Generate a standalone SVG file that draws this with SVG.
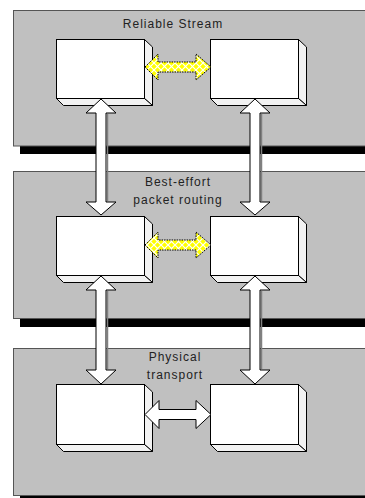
<svg xmlns="http://www.w3.org/2000/svg" width="365" height="498" viewBox="0 0 365 498">
<defs>
<pattern id="lattice" patternUnits="userSpaceOnUse" width="7" height="7">
<rect width="7" height="7" fill="#ffff00"/>
<path d="M0,0 L7,7 M7,0 L0,7" stroke="#ffffff" stroke-width="1.2"/>
</pattern>
<style>
.panel{fill:#c0c0c0;stroke:#555;stroke-width:1}
.shadow{fill:#000}
.face{fill:#fff;stroke:#000;stroke-width:1}
.side{fill:#f2f2f2;stroke:#000;stroke-width:1}
.lbl{font-family:"Liberation Sans",Arial,sans-serif;font-size:12px;letter-spacing:1px;fill:#222;text-anchor:middle}
.varrow{fill:#fff;stroke:#000;stroke-width:1}
.vshade{stroke:#808080;stroke-width:1.5}
.yarrow{fill:url(#lattice);stroke:#000;stroke-width:1;stroke-dasharray:1.5,1}
.warrow{fill:#fff;stroke:#000;stroke-width:1}
</style>
</defs>

<g id="layers">
<g id="layer-reliable">
<rect class="shadow" x="20" y="17" width="360" height="137"/>
<rect class="panel" x="13.5" y="10.5" width="360" height="135.5"/>
<text class="lbl" x="173" y="28">Reliable Stream</text>
</g>
<g id="layer-routing">
<rect class="shadow" x="20" y="178" width="360" height="149"/>
<rect class="panel" x="13.5" y="171.5" width="360" height="147"/>
<text class="lbl" x="178" y="186">Best-effort</text>
<text class="lbl" x="178" y="204">packet routing</text>
</g>
<g id="layer-physical">
<rect class="shadow" x="20" y="355" width="360" height="150"/>
<rect class="panel" x="13.5" y="348.5" width="360" height="147"/>
<text class="lbl" x="175" y="361">Physical</text>
<text class="lbl" x="175" y="379">transport</text>
</g>
</g>

<g id="node-a1">
<polygon class="side" points="144.5,39.5 152.5,47 152.5,105.5 144.5,98.5"/>
<polygon class="side" points="56.5,98.5 144.5,98.5 152.5,105.5 63.5,105.5"/>
<rect class="face" x="56.5" y="39.5" width="88" height="59"/>
</g>
<g id="node-b1">
<polygon class="side" points="298.5,39.5 306.5,47 306.5,105.5 298.5,98.5"/>
<polygon class="side" points="210.5,98.5 298.5,98.5 306.5,105.5 217.5,105.5"/>
<rect class="face" x="210.5" y="39.5" width="88" height="59"/>
</g>
<g id="node-a2">
<polygon class="side" points="144.5,216.5 152.5,224 152.5,282.5 144.5,275.5"/>
<polygon class="side" points="56.5,275.5 144.5,275.5 152.5,282.5 63.5,282.5"/>
<rect class="face" x="56.5" y="216.5" width="88" height="59"/>
</g>
<g id="node-b2">
<polygon class="side" points="298.5,216.5 306.5,224 306.5,282.5 298.5,275.5"/>
<polygon class="side" points="210.5,275.5 298.5,275.5 306.5,282.5 217.5,282.5"/>
<rect class="face" x="210.5" y="216.5" width="88" height="59"/>
</g>
<g id="node-a3">
<polygon class="side" points="144.5,384.5 152.5,392 152.5,451.5 144.5,444.5"/>
<polygon class="side" points="56.5,444.5 144.5,444.5 152.5,451.5 63.5,451.5"/>
<rect class="face" x="56.5" y="384.5" width="88" height="60"/>
</g>
<g id="node-b3">
<polygon class="side" points="298.5,384.5 306.5,392 306.5,451.5 298.5,444.5"/>
<polygon class="side" points="210.5,444.5 298.5,444.5 306.5,451.5 217.5,451.5"/>
<rect class="face" x="210.5" y="384.5" width="88" height="60"/>
</g>

<g id="connectors">
<!-- horizontal peer arrows -->
<polygon class="yarrow" points="145,67 158,54 158,62 196,62 196,54 211,67 196,80 196,72 158,72 158,80"/>
<polygon class="yarrow" points="145,245 158,232 158,240 196,240 196,232 211,245 196,258 196,250 158,250 158,258"/>
<polygon class="warrow" points="145,414.5 159,400.5 159,409.5 196,409.5 196,400.5 211,414.5 196,428.5 196,419.5 159,419.5 159,428.5"/>
<!-- vertical arrows upper -->
<polygon class="varrow" points="101,99 116,113 106,113 106,202 116,202 101,215 86,202 96,202 96,113 86,113"/>
<line class="vshade" x1="107.5" y1="114" x2="107.5" y2="201"/>
<polygon class="varrow" points="255,99 270,113 260,113 260,202 270,202 255,215 240,202 250,202 250,113 240,113"/>
<line class="vshade" x1="261.5" y1="114" x2="261.5" y2="201"/>
<!-- vertical arrows lower -->
<polygon class="varrow" points="101,276 116,290 106,290 106,370 116,370 101,384 86,370 96,370 96,290 86,290"/>
<line class="vshade" x1="107.5" y1="291" x2="107.5" y2="369"/>
<polygon class="varrow" points="255,276 270,290 260,290 260,370 270,370 255,384 240,370 250,370 250,290 240,290"/>
<line class="vshade" x1="261.5" y1="291" x2="261.5" y2="369"/>
</g>
</svg>
